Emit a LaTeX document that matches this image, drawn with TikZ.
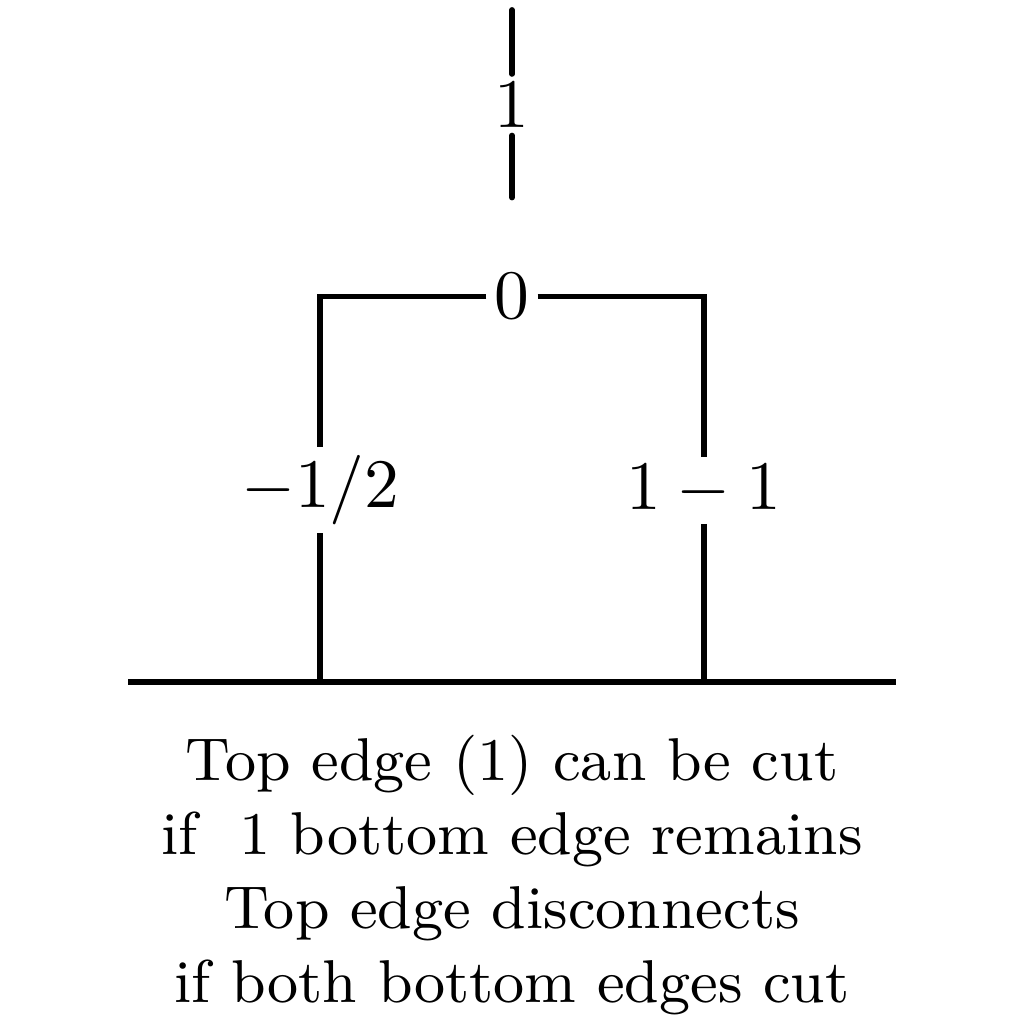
\documentclass[tikz,border=0pt]{standalone}
\usetikzlibrary{positioning}

\begin{document}
\begin{tikzpicture}[
    edge/.style={thick},
    weight/.style={inner sep=1pt},
    note/.style={align=center, font=\fontsize{8.7}{10.65}\selectfont, inner sep=0pt}
]
\useasboundingbox (-2.59,-2.59) rectangle (2.59,2.59);

% Top edge
\coordinate (top_end) at (0,2.54);
\node[weight] (w_top) at (0,2.06) {$1$};
\coordinate (top_foot) at (0,1.59);
\draw[edge, line cap=round] (top_end) -- (w_top) -- (top_foot);

% Middle bar
\node[weight] (w_mid) at (0,1.09) {$0$};
\node[weight] (w_left) at (-0.97,0.11) {$-1/2$};
\node[weight] (w_right) at (0.97,0.11) {$1-1$};
\draw[edge] (w_mid) -| (w_left);
\draw[edge] (w_mid) -| (w_right);

% Bottom line
\coordinate (ground_l) at (-1.94,-0.86);
\coordinate (ground_r) at (1.94,-0.86);
\draw[edge] (ground_l) -- (ground_r);
\draw[edge] (w_left) -- (w_left |- ground_l);
\draw[edge] (w_right) -- (w_right |- ground_l);

% Caption
\node[note, anchor=north] (caption) at (0,-1.12) {Top edge (1) can be cut\\if \ 1 bottom edge remains\\Top edge disconnects\\if both bottom edges cut};

\end{tikzpicture}
\end{document}
